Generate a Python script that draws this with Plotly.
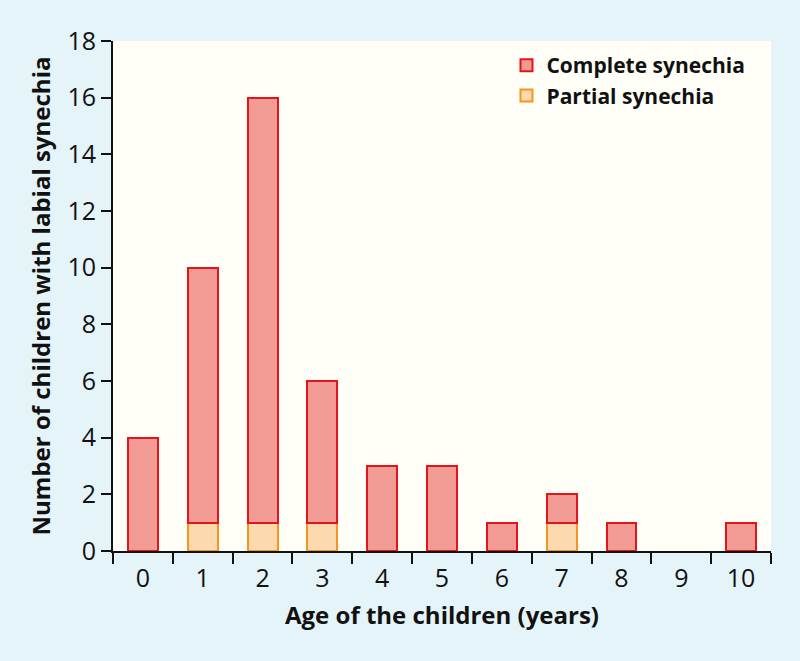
import plotly.graph_objects as go

ages = ["0", "1", "2", "3", "4", "5", "6", "7", "8", "9", "10"]
complete = [4, 9, 15, 5, 3, 3, 1, 1, 1, 0, 1]
partial = [0, 1, 1, 1, 0, 0, 0, 1, 0, 0, 0]
y_ticks = [0, 2, 4, 6, 8, 10, 12, 14, 16, 18]

def nz(vals):
    return [v if v else None for v in vals]

FONT = "Open Sans"

fig = go.Figure()
fig.add_trace(go.Bar(
    x=ages, y=nz(partial), name="Partial synechia", legendgroup="p",
    marker=dict(color="#fdd9b0", line=dict(color="#f7941d", width=2)),
))
fig.add_trace(go.Bar(
    x=ages, y=nz(complete), name="Complete synechia", legendgroup="c",
    marker=dict(color="#f29b94", line=dict(color="#e3141b", width=2)),
))

fig.update_layout(
    width=800, height=661,
    barmode="stack", bargap=0.5,
    paper_bgcolor="#e5f4f8", plot_bgcolor="#fffff7",
    margin=dict(l=113, r=29, t=41, b=110),
    font=dict(family=FONT, color="#111111"),
    legend=dict(
        x=0.598, y=0.992, xanchor="left", yanchor="top",
        traceorder="reversed", bgcolor="rgba(0,0,0,0)", tracegroupgap=5,
        font=dict(family=FONT, size=21, color="#111111", weight="bold"),
    ),
    xaxis=dict(
        type="category", tickson="boundaries",
        showline=True, linecolor="#111111", linewidth=2,
        ticks="outside", ticklen=11, tickwidth=2, tickcolor="#111111",
        tickfont=dict(size=25, family=FONT), ticklabelstandoff=4,
        showgrid=False, zeroline=False,
        title=dict(text="Age of the children (years)", standoff=14,
                   font=dict(size=24, family=FONT, weight="bold")),
    ),
    yaxis=dict(
        range=[0, 18], tickvals=y_ticks,
        showline=True, linecolor="#111111", linewidth=2,
        ticks="outside", ticklen=10, tickwidth=2, tickcolor="#111111",
        tickfont=dict(size=25, family=FONT),
        showgrid=False, zeroline=False,
        title=dict(text="Number of children with labial synechia", standoff=10,
                   font=dict(size=24, family=FONT, weight="bold")),
    ),
)

fig.write_html("out.html", config={"displayModeBar": False},
               post_script="document.body.style.margin='0';")
